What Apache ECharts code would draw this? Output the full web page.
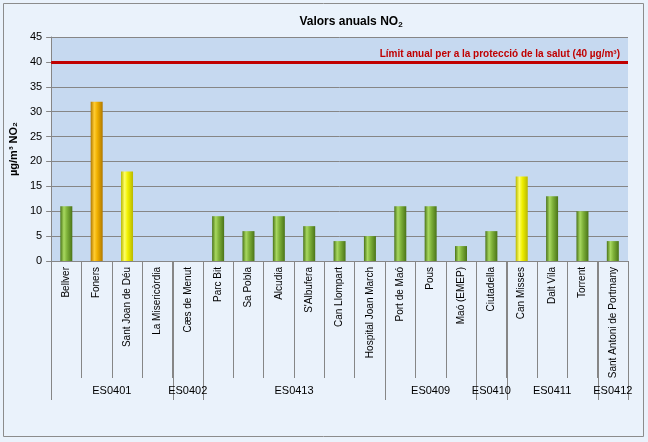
<!DOCTYPE html>
<html>
<head>
<meta charset="utf-8">
<script src="https://cdn.jsdelivr.net/npm/echarts@6/dist/echarts.min.js"></script>
<style>html,body{margin:0;padding:0;background:#fff}#c{width:648px;height:442px}</style>
</head>
<body>
<div id="c"></div>
<script>
var stations = ['Bellver','Foners','Sant Joan de Déu','La Misericòrdia','Cæs de Menut','Parc Bit','Sa Pobla','Alcudia',"S'Albufera",'Can Llompart','Hospital Joan March','Port de Maó','Pous','Maó (EMEP)','Ciutadella','Can Misses','Dalt Vila','Torrent','Sant Antoni de Portmany'];
var values = [11, 32, 18, null, null, 9, 6, 9, 7, 4, 5, 11, 11, 3, 6, 17, 13, 10, 4];
var groupNames = ['ES0401','ES0402','ES0413','ES0409','ES0410','ES0411','ES0412'];
var groupSizes = [4, 1, 6, 3, 1, 3, 1];
var yTicks = [0,5,10,15,20,25,30,35,40,45];
var limitValue = 40;
var limitLabel = 'Límit anual per a la protecció de la salut (40 µg/m³)';

function grad(edge, mid, light) {
  return new echarts.graphic.LinearGradient(0,0,1,0,[
    {offset:0,color:edge},{offset:0.3,color:light},{offset:0.55,color:mid},{offset:1,color:edge}
  ]);
}
function barColor(v){
  if (v >= 25) return grad('#b07800','#f0b000','#ffcc33');
  if (v >= 15) return grad('#b8b800','#f0f000','#ffff66');
  return grad('#4a7418','#7fb23a','#a8d860');
}
var barData = values.map(function(v){
  return v == null ? null : {value: v, itemStyle: {color: barColor(v)}};
});
var groupData = [];
var s = 0;
for (var i = 0; i < groupSizes.length; i++) {
  groupData.push([s, s + groupSizes[i] - 1, i]);
  s += groupSizes[i];
}

var chart = echarts.init(document.getElementById('c'));
var F = 'Liberation Sans, Arial, sans-serif';
chart.setOption({
  backgroundColor: '#eaf2fb',
  animation: false,
  graphic: [{type:'rect', shape:{x:3.5,y:3.5,width:640,height:433}, style:{fill:null, stroke:'#8c8c8c', lineWidth:1}, silent:true}],
  title: {
    text: 'Valors anuals NO{sub|2}',
    left: 346, top: 10, textAlign: 'center',
    textStyle: {fontFamily: F, fontSize: 12, fontWeight: 'bold', color: '#000',
      rich: {sub: {fontFamily: F, fontSize: 8, fontWeight: 'bold', verticalAlign: 'bottom', padding:[6,0,0,0]}}}
  },
  grid: {left: 48, right: 20, top: 37, bottom: 181, show: true, backgroundColor: '#c6d9f0', borderWidth: 0},
  xAxis: {
    type: 'category', data: stations,
    axisLine: {lineStyle: {color: '#868686'}},
    axisTick: {show: true, interval: 0, length: 117, lineStyle: {color: '#868686'}},
    axisLabel: {interval: 0, rotate: 90, margin: 6, fontFamily: F, fontSize: 10, color: '#000'}
  },
  yAxis: {
    type: 'value', min: yTicks[0], max: yTicks[yTicks.length-1], interval: 5,
    name: 'µg/m³ NO₂', nameLocation: 'middle', nameGap: 28,
    nameTextStyle: {fontFamily: F, fontSize: 11, fontWeight: 'bold', color: '#000'},
    axisLine: {show: true, lineStyle: {color: '#868686'}},
    axisTick: {show: true, length: 5, lineStyle: {color: '#868686'}},
    axisLabel: {fontFamily: F, fontSize: 11, color: '#000', margin: 9},
    splitLine: {lineStyle: {color: '#868686', width: 1}}
  },
  series: [{
    type: 'bar', data: barData, barWidth: 12,
    markLine: {
      symbol: 'none', silent: true,
      lineStyle: {color: '#c00000', width: 3, type: 'solid'},
      label: {position: 'insideEndTop', formatter: limitLabel, color: '#c00000', fontFamily: F, fontSize: 10, fontWeight: 'bold', distance: [8, 3]},
      data: [{yAxis: limitValue}]
    }
  }, {
    type: 'custom', data: groupData, encode: {x: 0, y: 1}, clip: false, silent: true, z: 5,
    renderItem: function(params, api){
      var a = api.value(0), b = api.value(1), gi = api.value(2);
      var bw = api.size([1,0])[0];
      var y0 = api.coord([0, 0])[1];
      var xl = api.coord([a, 0])[0] - bw/2;
      var xr = api.coord([b, 0])[0] + bw/2;
      var ch = [
        {type:'line', shape:{x1:Math.round(xr)+0.5,y1:y0,x2:Math.round(xr)+0.5,y2:y0+139}, style:{stroke:'#868686', lineWidth:1}},
        {type:'text', style:{text: groupNames[gi], x:(xl+xr)/2, y:y0+130, textAlign:'center', textVerticalAlign:'middle', fill:'#000', font:'11px Liberation Sans, Arial, sans-serif'}}
      ];
      if (a === 0) ch.push({type:'line', shape:{x1:Math.round(xl)+0.5,y1:y0,x2:Math.round(xl)+0.5,y2:y0+139}, style:{stroke:'#868686', lineWidth:1}});
      return {type:'group', children: ch};
    }
  }]
});
</script>
</body>
</html>
